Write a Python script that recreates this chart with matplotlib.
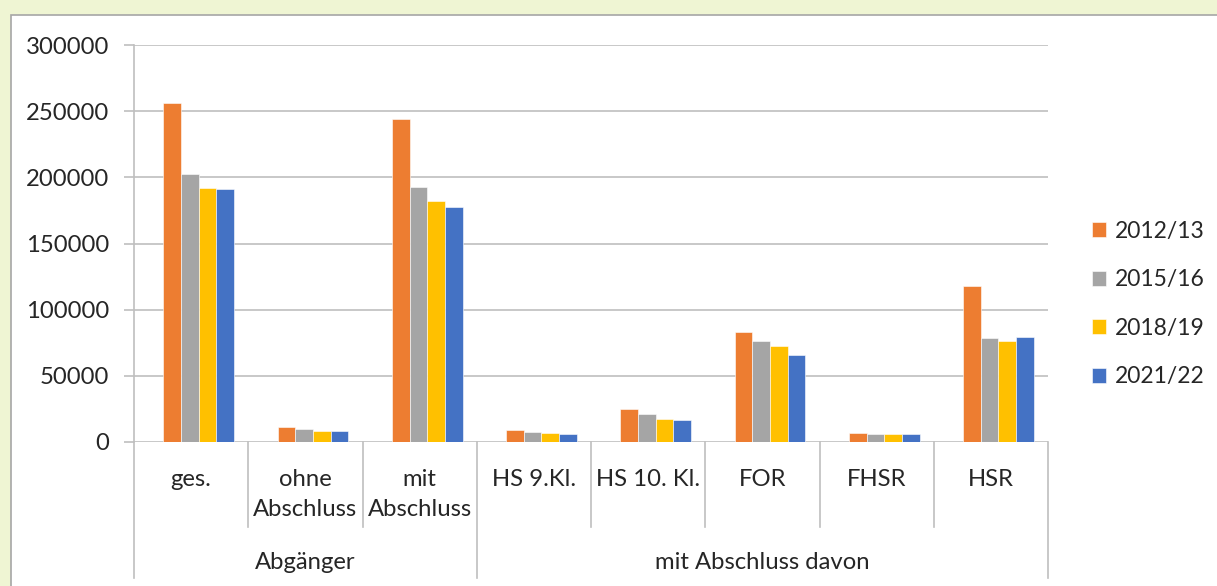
import numpy as np
import matplotlib.pyplot as plt
from matplotlib.patches import Rectangle

plt.rcParams['font.family'] = ['Lato', 'DejaVu Sans']

###
# Data
###

categories = ["ges.", "ohne\nAbschluss", "mit\nAbschluss", "HS 9.Kl.",
              "HS 10. Kl.", "FOR", "FHSR", "HSR"]
groups = ["Abgänger", "mit Abschluss davon"]
group_spans = [(0, 3), (3, 8)]

series = ["2012/13", "2015/16", "2018/19", "2021/22"]
v_2012 = [256000, 11100, 244300, 8800, 25200, 83100, 6800, 117700]
v_2015 = [202500, 10000, 192900, 7800, 21500, 76600, 5800, 78400]
v_2018 = [192000, 8100, 182400, 6800, 17700, 72800, 5800, 76600]
v_2021 = [191200, 8100, 177600, 5800, 16400, 66000, 5800, 79700]
values = [v_2012, v_2015, v_2018, v_2021]

colors = ["#ED7D31", "#A5A5A5", "#FFC000", "#4472C4"]
yticks = [0, 50000, 100000, 150000, 200000, 250000, 300000]

###
# Figure
###

W, H = 1217, 586
fig = plt.figure(figsize=(W / 100, H / 100), dpi=100)
fig.patch.set_facecolor("#EFF5D3")

# white chart panel
fig.patches.append(Rectangle((11 / W, -0.05), 1.1, 1 - 15 / H + 0.05,
                             transform=fig.transFigure, facecolor="white",
                             edgecolor="#A6A6A6", linewidth=1.2, zorder=-5))

ax = fig.add_axes([134 / W, 1 - 442 / H, 914 / W, 397 / H])
ax.set_facecolor("none")

text_color = "#262626"
grid_color = "#BFBFBF"
fs = 17.2
fs_leg = 16.5

x = np.arange(len(categories))
w = 0.155
bars = []
for k, (name, vals, c) in enumerate(zip(series, values, colors)):
    b = ax.bar(x + (k - 1.07) * w, vals, width=w, color=c, label=name,
               edgecolor="white", linewidth=0.4, zorder=3)
    bars.append(b)

ax.set_xlim(-0.5, len(categories) - 0.5)
ax.set_ylim(0, 300000)
ax.set_yticks(yticks)
ax.set_yticklabels([str(t) for t in yticks], fontsize=fs, color=text_color)
ax.tick_params(axis="y", length=7, width=1.2, color=grid_color, pad=11)
ax.set_xticks([])

ax.grid(axis="y", color=grid_color, linewidth=1.2, zorder=0)
for side in ["top", "right", "bottom"]:
    ax.spines[side].set_visible(False)
ax.spines["left"].set_color(grid_color)
ax.spines["left"].set_linewidth(1.2)

xt = ax.get_xaxis_transform()

# category separators
for b in range(len(categories) + 1):
    long_line = b in (0, 3, len(categories))
    y_end = -0.3426 if long_line else -0.214
    ax.plot([b - 0.5, b - 0.5], [0, y_end], transform=xt, color=grid_color,
            linewidth=1.2, clip_on=False, zorder=2)

# category labels, one text per line so the first lines share a baseline
line_step = 30 / 397
for i, lab in enumerate(categories):
    for j, line in enumerate(lab.split("\n")):
        ax.text(i, -0.111 - j * line_step, line, transform=xt, ha="center",
                va="baseline", fontsize=fs, color=text_color)

# group labels
for g, (a, b) in zip(groups, group_spans):
    ax.text((a + b - 1) / 2, -0.32, g, transform=xt, ha="center",
            va="baseline", fontsize=fs, color=text_color)

fig.legend(handles=bars, labels=series, loc="center left",
           bbox_to_anchor=(1092 / W, 1 - 304 / H), frameon=False,
           fontsize=fs_leg, handlelength=0.62, handleheight=0.62,
           handletextpad=0.4, labelspacing=1.2, labelcolor=text_color,
           borderpad=0, borderaxespad=0)

fig.savefig("out.png", dpi=100, facecolor=fig.get_facecolor())
